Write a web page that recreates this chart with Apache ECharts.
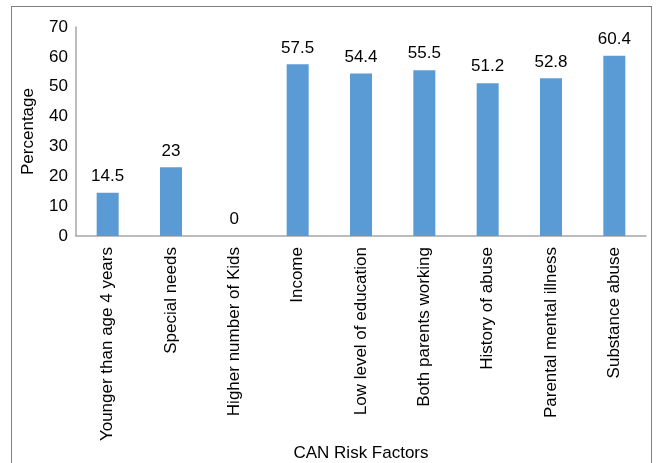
<!DOCTYPE html>
<html><head><meta charset="utf-8">
<script src="https://cdn.jsdelivr.net/npm/echarts@6/dist/echarts.min.js"></script>
<style>html,body{margin:0;padding:0;background:#fff}#c{width:657px;height:463px}
#frame{position:absolute;left:11px;top:6px;width:639px;height:470px;border:1px solid #7f7f7f;pointer-events:none}</style>
</head><body><div id="c"></div><div id="frame"></div>
<script>
const categories = ["Younger than age 4 years","Special needs","Higher number of Kids","Income","Low level of education","Both parents working","History of abuse","Parental mental illness","Substance abuse"];
const values = [14.5, 23, 0, 57.5, 54.4, 55.5, 51.2, 52.8, 60.4];
const yTicks = [0, 10, 20, 30, 40, 50, 60, 70];
const chart = echarts.init(document.getElementById('c'));
const font = 'Liberation Sans, Arial, sans-serif';
chart.setOption({
  animation: false,
  grid: {left: 76, right: 11, top: 27, bottom: 222, containLabel: false},
  xAxis: {
    type: 'category', data: categories,
    name: 'CAN Risk Factors', nameLocation: 'middle', nameGap: 208,
    nameTextStyle: {fontFamily: font, fontSize: 17, color: '#000'},
    axisLine: {lineStyle: {color: '#a6a6a6', width: 1.5}},
    axisTick: {show: false},
    axisLabel: {rotate: 90, interval: 0, fontFamily: font, fontSize: 17, color: '#000', margin: 11}
  },
  yAxis: {
    type: 'value', min: yTicks[0], max: yTicks[yTicks.length-1], interval: 10,
    name: 'Percentage', nameLocation: 'middle', nameGap: 39,
    nameTextStyle: {fontFamily: font, fontSize: 17, color: '#000'},
    axisLine: {show: true, lineStyle: {color: '#a6a6a6', width: 1.5}},
    axisTick: {show: false}, splitLine: {show: false},
    axisLabel: {fontFamily: font, fontSize: 17, color: '#000', margin: 8}
  },
  series: [{
    type: 'bar', data: values, barWidth: 22,
    itemStyle: {color: '#5b9bd5'},
    label: {show: true, position: 'top', distance: 8, fontFamily: font, fontSize: 17, color: '#000'}
  }]
});
</script></body></html>
